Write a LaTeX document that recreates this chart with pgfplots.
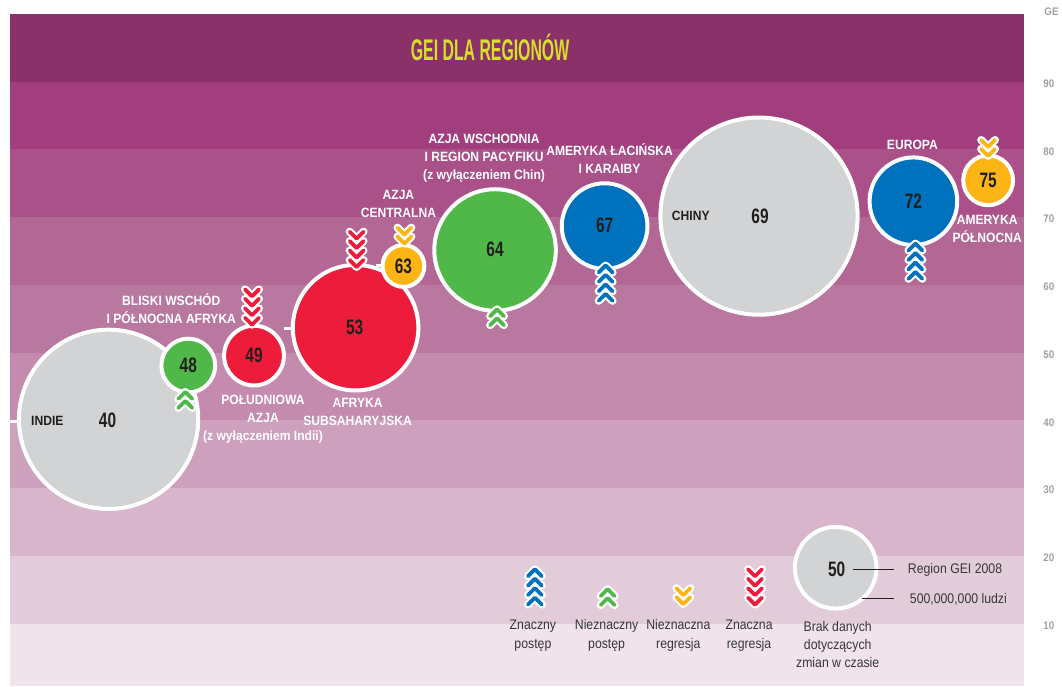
\documentclass[border=0pt]{standalone}
\usepackage{fontspec}
\setmainfont{Liberation Sans}
\usepackage{pgfplots}
\pgfplotsset{compat=1.18}
\newfontfamily\labf[FakeStretch=0.9]{Liberation Sans}
\newfontfamily\numf[FakeStretch=0.74]{Liberation Sans}
\newfontfamily\legf[FakeStretch=0.88]{Liberation Sans}
\newfontfamily\titf[FakeStretch=0.53]{Liberation Sans}

\definecolor{b0}{RGB}{240,227,235}
\definecolor{b1}{RGB}{227,204,218}
\definecolor{b2}{RGB}{216,181,203}
\definecolor{b3}{RGB}{205,160,190}
\definecolor{b4}{RGB}{196,139,174}
\definecolor{b5}{RGB}{185,120,160}
\definecolor{b6}{RGB}{178,103,148}
\definecolor{b7}{RGB}{170,81,138}
\definecolor{b8}{RGB}{163,62,126}
\definecolor{b9}{RGB}{138,49,106}
\definecolor{cgray}{RGB}{209,211,212}
\definecolor{cgreen}{RGB}{80,184,72}
\definecolor{cred}{RGB}{238,28,59}
\definecolor{cyellow}{RGB}{253,181,21}
\definecolor{cblue}{RGB}{0,113,188}
\definecolor{cnum}{RGB}{35,31,32}
\definecolor{ctitle}{RGB}{215,223,40}
\definecolor{clegtext}{RGB}{55,55,55}
\definecolor{caxis}{RGB}{160,160,160}

\pgfdeclareplotmark{chevup}{%
  \pgfpathmoveto{\pgfqpoint{-\pgfplotmarksize}{-0.5\pgfplotmarksize}}%
  \pgfpathlineto{\pgfqpoint{0pt}{0.5\pgfplotmarksize}}%
  \pgfpathlineto{\pgfqpoint{\pgfplotmarksize}{-0.5\pgfplotmarksize}}%
  \pgfusepathqstroke}
\pgfdeclareplotmark{chevdown}{%
  \pgfpathmoveto{\pgfqpoint{-\pgfplotmarksize}{0.5\pgfplotmarksize}}%
  \pgfpathlineto{\pgfqpoint{0pt}{-0.5\pgfplotmarksize}}%
  \pgfpathlineto{\pgfqpoint{\pgfplotmarksize}{0.5\pgfplotmarksize}}%
  \pgfusepathqstroke}

\pgfplotsset{
  bub/.style 2 args={only marks, mark=*, mark size=#2pt,
    mark options={fill=#1, draw=white, line width=4pt}},
  chevw/.style={only marks, mark=#1, mark size=7pt,
    mark options={draw=white, line width=8pt, line cap=round, line join=round}},
  chevc/.style 2 args={only marks, mark=#1, mark size=7pt,
    mark options={draw=#2, line width=3.8pt, line cap=round, line join=round}},
}
\tikzset{
  lab/.style={text=white, font=\labf\bfseries\fontsize{13.5}{18}\selectfont, align=center},
  leg/.style={text=clegtext, font=\legf\fontsize{14}{18.5}\selectfont, align=center},
  num/.style={text=cnum, font=\numf\bfseries\fontsize{21}{21}\selectfont},
}

\begin{document}
\begin{tikzpicture}
\begin{axis}[width=1062pt, height=689pt, scale only axis,
  xmin=0, xmax=1062, ymin=0.735, ymax=102.06,
  hide axis, clip=false, set layers]

\path (axis cs:0,0.735) rectangle (axis cs:1062,102.06);
% background bands
\begin{pgfonlayer}{axis background}
\fill[b0] (axis cs:10,0.735) rectangle (axis cs:1028,10);
\fill[b1] (axis cs:10,10) rectangle (axis cs:1028,20);
\fill[b2] (axis cs:10,20) rectangle (axis cs:1028,30);
\fill[b3] (axis cs:10,30) rectangle (axis cs:1028,40);
\fill[b4] (axis cs:10,40) rectangle (axis cs:1028,50);
\fill[b5] (axis cs:10,50) rectangle (axis cs:1028,60);
\fill[b6] (axis cs:10,60) rectangle (axis cs:1028,70);
\fill[b7] (axis cs:10,70) rectangle (axis cs:1028,80);
\fill[b8] (axis cs:10,80) rectangle (axis cs:1028,90);
\fill[b9] (axis cs:10,90) rectangle (axis cs:1028,100);
% white stubs
\draw[white, line width=3pt] (axis cs:10,39.85) -- (axis cs:20,39.85);
\draw[white, line width=3pt] (axis cs:285,53.53) -- (axis cs:294,53.53);
\draw[white, line width=3pt] (axis cs:377,62.8) -- (axis cs:385,62.8);
\end{pgfonlayer}

% bubbles (x, GEI position); mark size = radius from population
\addplot[bub={cgray}{90}] coordinates {(109,40.15)};   % Indie 40
\addplot[bub={cgray}{99}] coordinates {(762,70.15)};   % Chiny 69
\addplot[bub={cgray}{41}] coordinates {(839,18.24)};   % legend 50
\addplot[bub={cred}{30}] coordinates {(255,49.56)};    % 49
\addplot[bub={cred}{63}] coordinates {(357,53.68)};    % 53
\addplot[bub={cgreen}{27}] coordinates {(189,48.09)};  % 48
\addplot[bub={cgreen}{61}] coordinates {(497,65.15)};  % 64
\addplot[bub={cyellow}{21}] coordinates {(405,62.79)}; % 63
\addplot[bub={cyellow}{25}] coordinates {(992,75.44)}; % 75
\addplot[bub={cblue}{43}] coordinates {(607,68.68)};   % 67
\addplot[bub={cblue}{44}] coordinates {(917,72.35)};   % 72

% chevrons: white underlay
\addplot[chevw=chevup] table {
x y
186 43.68
186 42.35
499 55.88
499 54.56
610 14.56
610 13.24
608 62.35
608 60.96
608 59.56
608 58.16
919 65.59
919 64.19
919 62.79
919 61.40
537 17.50
537 16.10
537 14.71
537 13.31
};
\addplot[chevw=chevdown] table {
x y
406 67.94
406 66.62
992 80.88
992 79.56
686 14.71
686 13.38
253 58.82
253 57.43
253 56.03
253 54.63
358 67.35
358 65.96
358 64.56
358 63.16
758 17.50
758 16.10
758 14.71
758 13.31
};
% coloured chevrons
\addplot[chevc={chevup}{cgreen}] table {
x y
186 43.68
186 42.35
499 55.88
499 54.56
610 14.56
610 13.24
};
\addplot[chevc={chevup}{cblue}] table {
x y
608 62.35
608 60.96
608 59.56
608 58.16
919 65.59
919 64.19
919 62.79
919 61.40
537 17.50
537 16.10
537 14.71
537 13.31
};
\addplot[chevc={chevdown}{cyellow}] table {
x y
406 67.94
406 66.62
992 80.88
992 79.56
686 14.71
686 13.38
};
\addplot[chevc={chevdown}{cred}] table {
x y
253 58.82
253 57.43
253 56.03
253 54.63
358 67.35
358 65.96
358 64.56
358 63.16
758 17.50
758 16.10
758 14.71
758 13.31
};

\begin{pgfonlayer}{axis foreground}
\node[text=ctitle, font=\titf\bfseries\fontsize{30}{30}\selectfont] at (axis cs:492,95) {GEI DLA REGIONÓW};

% right scale
\pgfplotsinvokeforeach{10,20,...,90}{
  \node[text=caxis, font=\labf\bfseries\fontsize{11}{11}\selectfont, yshift=-2pt] at (axis cs:1053,#1) {#1};
}
\node[text=caxis, font=\labf\bfseries\fontsize{11}{11}\selectfont, anchor=west] at (axis cs:1045,100.3) {GE};

% bubble values
\node[num] at (axis cs:108,39.95) {40};
\node[num] at (axis cs:763,70.15) {69};
\node[num] at (axis cs:840,17.94) {50};
\node[num] at (axis cs:255,49.56) {49};
\node[num] at (axis cs:356,53.68) {53};
\node[num] at (axis cs:189,48.09) {48};
\node[num] at (axis cs:497,65.30) {64};
\node[num] at (axis cs:405,62.79) {63};
\node[num] at (axis cs:992,75.44) {75};
\node[num] at (axis cs:607,68.83) {67};
\node[num] at (axis cs:917,72.35) {72};

% region labels
\node[lab] at (axis cs:172,56.47) {BLISKI WSCHÓD\\I PÓŁNOCNA AFRYKA};
\node[lab] at (axis cs:264,40.22) {POŁUDNIOWA\\AZJA\\(z wyłączeniem Indii)};
\node[lab] at (axis cs:359,41.18) {AFRYKA\\SUBSAHARYJSKA};
\node[lab] at (axis cs:400,71.91) {AZJA\\CENTRALNA};
\node[lab] at (axis cs:486,78.68) {AZJA WSCHODNIA\\I REGION PACYFIKU\\(z wyłączeniem Chin)};
\node[lab] at (axis cs:612,78.68) {AMERYKA ŁACIŃSKA\\I KARAIBY};
\node[lab] at (axis cs:916,80.74) {EUROPA};
\node[lab] at (axis cs:991,68.24) {AMERYKA\\PÓŁNOCNA};
\node[lab, text=cnum] at (axis cs:693.5,70.15) {CHINY};
\node[lab, text=cnum] at (axis cs:47.5,39.85) {INDIE};

% legend texts
\node[leg] at (axis cs:535,8.24) {Znaczny\\postęp};
\node[leg] at (axis cs:609,8.24) {Nieznaczny\\postęp};
\node[leg] at (axis cs:681,8.24) {Nieznaczna\\regresja};
\node[leg] at (axis cs:752,8.24) {Znaczna\\regresja};
\node[leg] at (axis cs:841,6.91) {Brak danych\\dotyczących\\zmian w czasie};
\draw[cnum, line width=1pt] (axis cs:856,17.94) -- (axis cs:898,17.94);
\draw[cnum, line width=1pt] (axis cs:865,13.68) -- (axis cs:898,13.68);
\node[leg, anchor=west] at (axis cs:908,17.94) {Region GEI 2008};
\node[leg, anchor=west] at (axis cs:910,13.53) {500,000,000 ludzi};
\end{pgfonlayer}

\end{axis}
\end{tikzpicture}
\end{document}
